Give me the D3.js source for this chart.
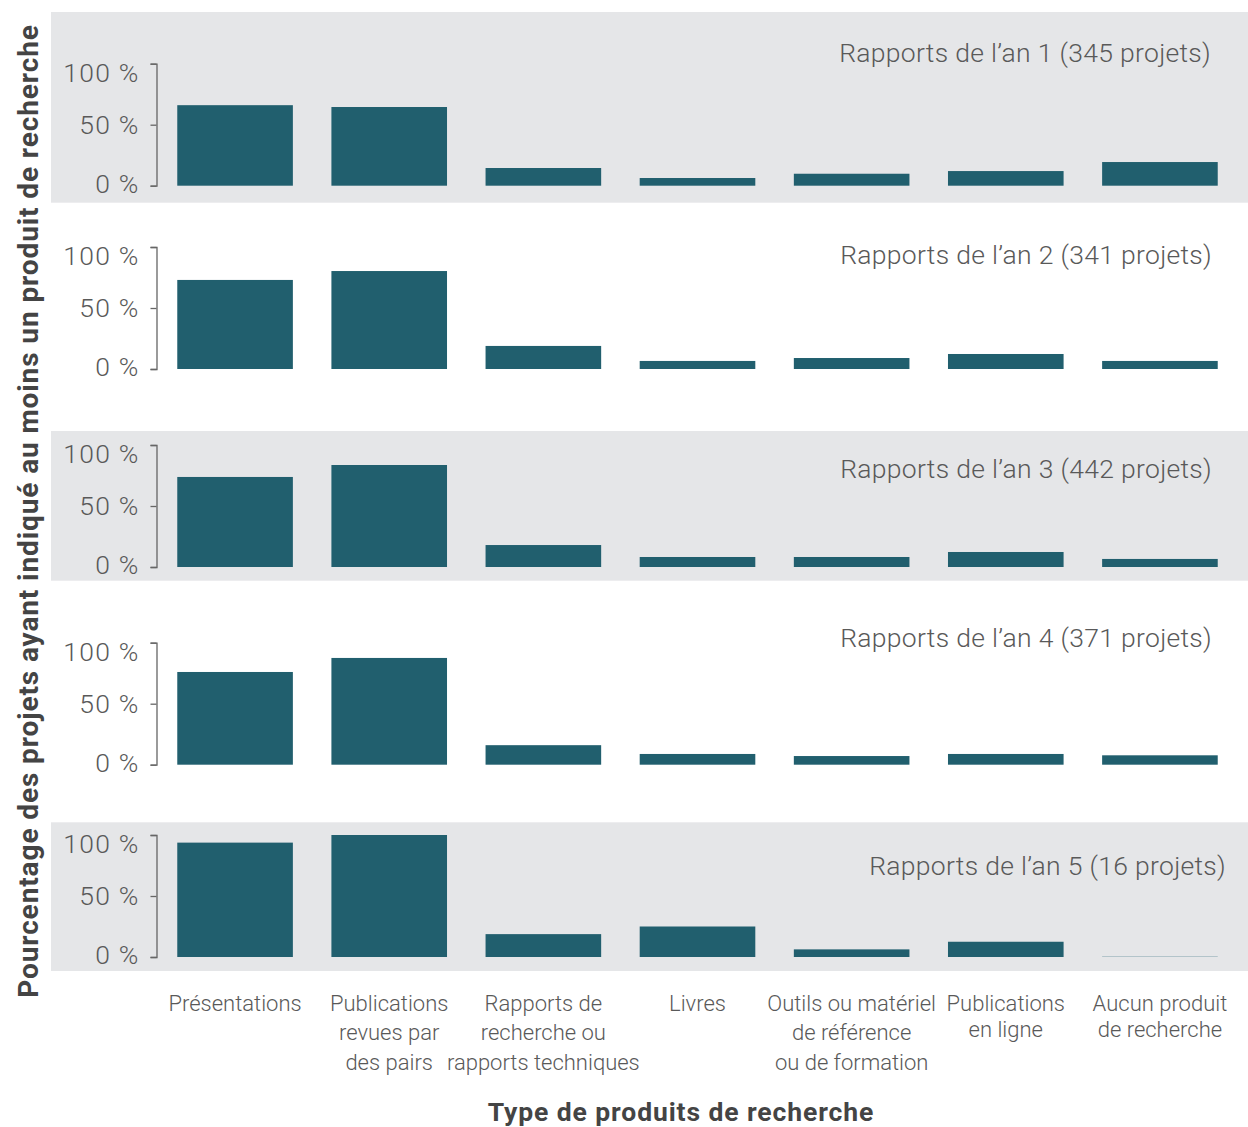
<!DOCTYPE html>
<html><head><meta charset="utf-8">
<script src="https://cdn.jsdelivr.net/npm/d3@7"></script>
<style>
html,body{margin:0;padding:0;background:#fff;}
svg{display:block;font-family:Roboto,"Open Sans",sans-serif;}
</style></head>
<body>
<svg id="chart" width="1248" height="1127"></svg>
<script>
const categories = [
  "Présentations",
  "Publications\nrevues par\ndes pairs",
  "Rapports de\nrecherche ou\nrapports techniques",
  "Livres",
  "Outils ou matériel\nde référence\nou de formation",
  "Publications\nen ligne",
  "Aucun produit\nde recherche"
];
const panelTitles = [
  "Rapports de l’an 1 (345 projets)",
  "Rapports de l’an 2 (341 projets)",
  "Rapports de l’an 3 (442 projets)",
  "Rapports de l’an 4 (371 projets)",
  "Rapports de l’an 5 (16 projets)"
];
const year1 = [66, 64.5, 14.5, 6.3, 9.8, 12, 19.4];
const year2 = [73, 80.3, 18.9, 6.6, 9, 12.3, 6.6];
const year3 = [73.8, 83.6, 18, 8.2, 8.2, 12.3, 6.6];
const year4 = [76, 87.5, 16, 8.8, 7.1, 8.8, 7.7];
const year5 = [93.75, 100, 18.75, 25, 6.25, 12.5, 0];
const series = [year1, year2, year3, year4, year5];
const yTicks = [0, 50, 100];
const yTickLabels = ["0 %", "50 %", "100 %"];
const yAxisTitle = "Pourcentage des projets ayant indiqué au moins un produit de recherche";
const xAxisTitle = "Type de produits de recherche";

// layout
const panelBands = [[12, 202.7], [202.7, 431], [431, 580.7], [580.7, 822.3], [822.3, 971]];
const axisBottoms = [185.7, 369, 567, 764.7, 957];
const axisSpan = 122;
const titleY = [52, 254, 468, 637, 865];
const titleRight = [1211, 1212, 1212, 1212, 1226];
const panelLeft = 51, panelRight = 1248;
const barColor = "#215f6e";
const textColor = "#595959";

const svg = d3.select("#chart");

const x = d3.scaleBand().domain(categories).range([158, 1237]).paddingInner(0.25).paddingOuter(0.125);

series.forEach((vals, i) => {
  const g = svg.append("g");
  const [top, bot] = panelBands[i];
  if (i % 2 === 0) {
    g.append("rect").attr("x", panelLeft).attr("y", top).attr("width", panelRight - panelLeft)
      .attr("height", bot - top).attr("fill", "#e5e6e8");
  }
  const y = d3.scaleLinear().domain([0, 100]).range([axisBottoms[i], axisBottoms[i] - axisSpan]);

  g.selectAll("rect.bar").data(vals).join("rect")
    .attr("class", "bar")
    .attr("x", (d, j) => x(categories[j]))
    .attr("width", x.bandwidth())
    .attr("y", d => d > 0 ? y(d) : y(0) - 1)
    .attr("height", d => d > 0 ? y(0) - y(d) : 1)
    .attr("fill", barColor)
    .attr("opacity", d => d > 0 ? 1 : 0.25);

  const axis = d3.axisLeft(y).tickValues(yTicks).tickFormat((d, k) => yTickLabels[k])
    .tickSize(6).tickSizeOuter(6).tickPadding(11);
  const ag = g.append("g").attr("transform", "translate(156.5,0)").call(axis);
  ag.select(".domain").attr("stroke", "#666").attr("stroke-width", 1.3);
  ag.selectAll(".tick line").attr("stroke", "#666").attr("stroke-width", 1.3);
  ag.selectAll(".tick text")
    .attr("fill", textColor)
    .attr("font-family", "Roboto, sans-serif")
    .attr("font-weight", 300)
    .attr("font-size", 26.5)
    .attr("letter-spacing", 1.2)
    .attr("dy", d => d === 100 ? "0.66em" : d === 0 ? "0.24em" : "0.32em");

  g.append("text")
    .attr("x", titleRight[i]).attr("y", titleY[i])
    .attr("text-anchor", "end").attr("dominant-baseline", "central")
    .attr("fill", textColor).attr("font-weight", 300).attr("font-size", 26.5)
    .attr("letter-spacing", 0.3)
    .text(panelTitles[i]);
});

// x category labels
const xl = svg.append("g");
categories.forEach(c => {
  const lines = c.split("\n");
  const lh = lines.length === 3 ? 29.5 : 26;
  const t = xl.append("text")
    .attr("x", x(c) + x.bandwidth() / 2)
    .attr("y", 1003)
    .attr("text-anchor", "middle")
    .attr("fill", textColor).attr("font-weight", 300).attr("font-size", 22);
  lines.forEach((ln, k) => {
    t.append("tspan").attr("x", x(c) + x.bandwidth() / 2)
      .attr("y", 1003 + k * lh).attr("dominant-baseline", "central").text(ln);
  });
});

svg.append("text")
  .attr("x", 681).attr("y", 1111)
  .attr("text-anchor", "middle").attr("dominant-baseline", "central")
  .attr("fill", "#444").attr("font-weight", 700).attr("font-size", 26.5)
  .attr("letter-spacing", 0.9)
  .text(xAxisTitle);

svg.append("text")
  .attr("transform", "translate(28,511) rotate(-90)")
  .attr("text-anchor", "middle").attr("dominant-baseline", "central")
  .attr("fill", "#444").attr("font-weight", 700).attr("font-size", 28)
  .attr("letter-spacing", 0.9)
  .text(yAxisTitle);
</script>
</body></html>
